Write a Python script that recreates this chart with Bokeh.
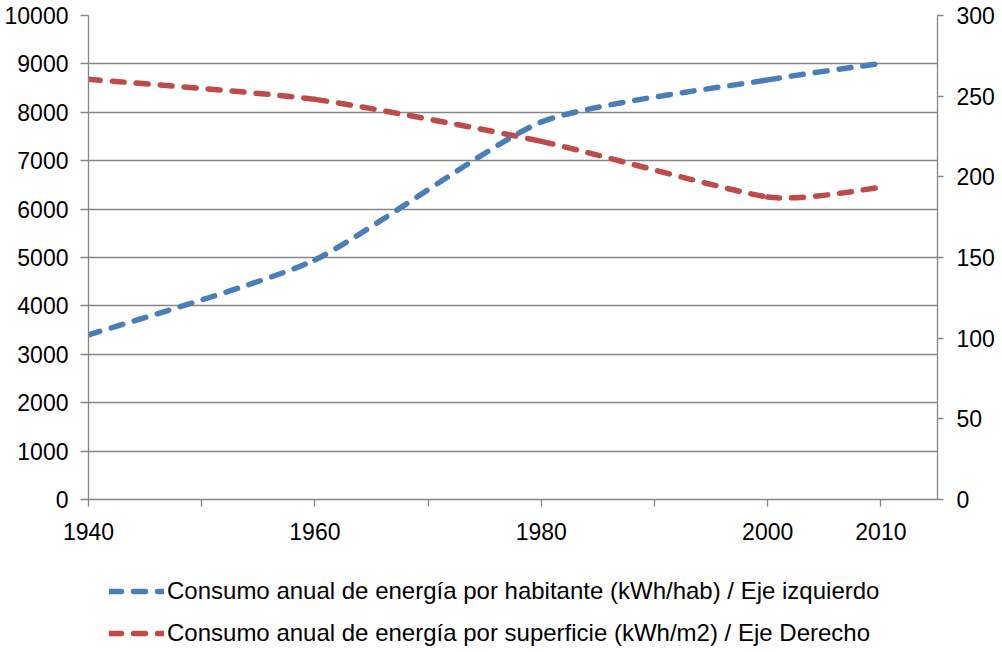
import numpy as np
from bokeh.plotting import figure
from bokeh.layouts import column
from bokeh.models import Range1d, LinearAxis, FixedTicker, Legend, LegendItem, ColumnDataSource
from bokeh.embed import file_html
from bokeh.resources import INLINE

# ---- data ----
years = [1940, 1960, 1980, 2000, 2010]
por_habitante = [3400, 4950, 7800, 8670, 9010]      # kWh/hab, left axis
por_superficie = [260.5, 248, 222, 187.5, 193.5]    # kWh/m2, right axis
x_ticks = [1940, 1950, 1960, 1970, 1980, 1990, 2000, 2010]
x_tick_labels = {1940: "1940", 1950: "", 1960: "1960", 1970: "", 1980: "1980",
                 1990: "", 2000: "2000", 2010: "2010"}
left_ticks = [0, 1000, 2000, 3000, 4000, 5000, 6000, 7000, 8000, 9000, 10000]
right_ticks = [0, 50, 100, 150, 200, 250, 300]
label_habitante = "Consumo anual de energía por habitante (kWh/hab) / Eje izquierdo"
label_superficie = "Consumo anual de energía por superficie (kWh/m2) / Eje Derecho"

BLUE = "#4A7EBB"
RED = "#BE4B48"
GRAY = "#868686"
FONT = "Liberation Sans"
FS = "23px"
SMOOTH = 1.0 / 10.0
LW = 5.5
DASH = "12 12"
W = 998


def smooth_segments(xv, yv):
    x = np.asarray(xv, float)
    y = np.asarray(yv, float)
    n = len(x)
    d = dict(x0=[], y0=[], x1=[], y1=[], cx0=[], cy0=[], cx1=[], cy1=[])
    for i in range(n - 1):
        a = max(i - 1, 0)
        b = min(i + 2, n - 1)
        d["x0"].append(x[i]); d["y0"].append(y[i])
        d["x1"].append(x[i + 1]); d["y1"].append(y[i + 1])
        d["cx0"].append(x[i] + (x[i + 1] - x[a]) * SMOOTH)
        d["cy0"].append(y[i] + (y[i + 1] - y[a]) * SMOOTH)
        d["cx1"].append(x[i + 1] - (x[b] - x[i]) * SMOOTH)
        d["cy1"].append(y[i + 1] - (y[b] - y[i]) * SMOOTH)
    return ColumnDataSource(d)


p = figure(width=W, height=550, x_range=Range1d(1940, 2015), y_range=Range1d(0, 10000),
           output_backend="svg", toolbar_location=None,
           min_border_left=88, min_border_right=61, min_border_top=15, min_border_bottom=51)
p.extra_y_ranges = {"right": Range1d(0, 300)}
p.outline_line_alpha = 0
p.background_fill_color = "white"
p.border_fill_color = "white"

# grid
p.xgrid.visible = False
p.ygrid.ticker = FixedTicker(ticks=left_ticks)
p.ygrid.grid_line_color = GRAY
p.ygrid.grid_line_width = 1.3

# left axis
ya = p.yaxis[0]
ya.ticker = FixedTicker(ticks=left_ticks)
ya.major_tick_out = 8
ya.major_tick_in = 0
ya.minor_tick_out = 0
ya.minor_tick_in = 0
ya.axis_line_color = GRAY
ya.axis_line_width = 1.3
ya.major_tick_line_color = GRAY
ya.major_tick_line_width = 1.3
ya.major_label_standoff = 12
ya.major_label_text_font = FONT
ya.major_label_text_font_size = FS
ya.major_label_text_color = "black"

# right axis
ra = LinearAxis(y_range_name="right", ticker=FixedTicker(ticks=right_ticks))
ra.major_tick_out = 6
ra.major_tick_in = 0
ra.minor_tick_out = 0
ra.minor_tick_in = 0
ra.axis_line_color = GRAY
ra.axis_line_width = 1.3
ra.major_tick_line_color = GRAY
ra.major_tick_line_width = 1.3
ra.major_label_standoff = 13
ra.major_label_text_font = FONT
ra.major_label_text_font_size = FS
ra.major_label_text_color = "black"
p.add_layout(ra, "right")

# x axis
xa = p.xaxis[0]
xa.ticker = FixedTicker(ticks=x_ticks)
xa.major_label_overrides = x_tick_labels
xa.major_tick_out = 7
xa.major_tick_in = 0
xa.minor_tick_out = 0
xa.minor_tick_in = 0
xa.axis_line_color = GRAY
xa.axis_line_width = 1.3
xa.major_tick_line_color = GRAY
xa.major_tick_line_width = 1.3
xa.major_label_standoff = 16
xa.major_label_text_font = FONT
xa.major_label_text_font_size = FS
xa.major_label_text_color = "black"

# series (smoothed like the original)
src_h = smooth_segments(years, por_habitante)
src_s = smooth_segments(years, por_superficie)
p.bezier(x0="x0", y0="y0", x1="x1", y1="y1", cx0="cx0", cy0="cy0", cx1="cx1", cy1="cy1",
         source=src_s, y_range_name="right", line_color=RED, line_width=LW,
         line_dash=DASH, line_cap="round")
p.bezier(x0="x0", y0="y0", x1="x1", y1="y1", cx0="cx0", cy0="cy0", cx1="cx1", cy1="cy1",
         source=src_h, line_color=BLUE, line_width=LW,
         line_dash=DASH, line_cap="round")

# legend strip below the chart
pl = figure(width=W, height=98, x_range=Range1d(0, 1), y_range=Range1d(0, 1),
            output_backend="svg", toolbar_location=None,
            x_axis_location=None, y_axis_location=None,
            min_border_left=0, min_border_right=0, min_border_top=0, min_border_bottom=0)
pl.outline_line_alpha = 0
pl.xgrid.visible = False
pl.ygrid.visible = False
lh = pl.line(x=[np.nan], y=[np.nan], line_color=BLUE, line_width=LW, line_dash=DASH, line_cap="round")
ls = pl.line(x=[np.nan], y=[np.nan], line_color=RED, line_width=LW, line_dash=DASH, line_cap="round")
legend = Legend(items=[LegendItem(label=label_habitante, renderers=[lh]),
                       LegendItem(label=label_superficie, renderers=[ls])],
                location=(21, 1), orientation="vertical",
                glyph_width=55, glyph_height=20, label_height=20, label_standoff=3,
                spacing=14, padding=0, margin=0,
                label_text_font=FONT, label_text_font_size="24px", label_text_color="black",
                border_line_alpha=0, background_fill_alpha=0)
pl.add_layout(legend)

open("out.html", "w").write(file_html(column(p, pl, spacing=0), INLINE))
